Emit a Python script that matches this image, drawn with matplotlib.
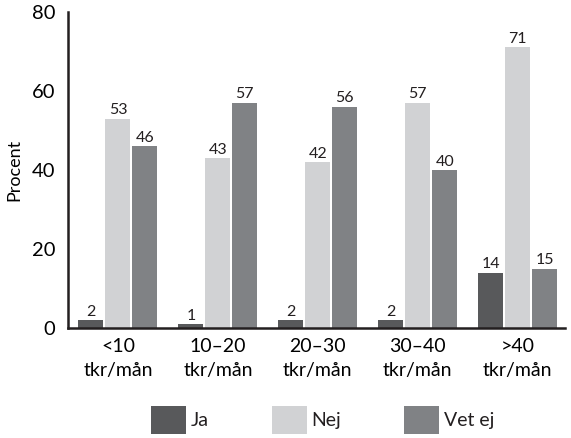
import numpy as np
import matplotlib.pyplot as plt
from matplotlib import rcParams

rcParams['font.family'] = ['Lato', 'DejaVu Sans']
rcParams['text.color'] = '#231f20'

categories = ['<10\ntkr/mån', '10–20\ntkr/mån', '20–30\ntkr/mån', '30–40\ntkr/mån', '>40\ntkr/mån']
series_names = ['Ja', 'Nej', 'Vet ej']
ja = [2, 1, 2, 2, 14]
nej = [53, 43, 42, 57, 71]
vet_ej = [46, 57, 56, 40, 15]
colors = ['#58595b', '#d1d2d4', '#808285']

fig = plt.figure(figsize=(5.71, 4.38), dpi=100)
ax = fig.add_axes([0.119, 0.251, 0.870, 0.722])

x = np.arange(len(categories))
width = 0.25
step = 0.27
for i, (vals, name) in enumerate(zip([ja, nej, vet_ej], series_names)):
    bars = ax.bar(x + (i - 1) * step, vals, width, color=colors[i], label=name)
    ax.bar_label(bars, padding=1, fontsize=11.5, color='#231f20')

ax.set_xlim(-0.5, 4.47)
ax.set_ylim(0, 80)
ax.set_yticks([0, 20, 40, 60, 80])
ax.set_xticks(x)
ax.set_xticklabels(categories, fontsize=14, linespacing=1.5)
ax.tick_params(axis='y', labelsize=14.5, length=0, pad=9)
ax.tick_params(axis='x', length=0, pad=7)
ax.set_ylabel('Procent', fontsize=13, labelpad=7)

for side in ['top', 'right']:
    ax.spines[side].set_visible(False)
for side in ['left', 'bottom']:
    ax.spines[side].set_linewidth(1.8)
    ax.spines[side].set_color('#231f20')

fig.legend(loc='center', bbox_to_anchor=(0.565, 0.041), ncol=3, frameon=False,
           fontsize=14, handlelength=1.8, handleheight=1.8, handletextpad=0.25,
           columnspacing=3.25)

fig.savefig('out.png', dpi=100)
